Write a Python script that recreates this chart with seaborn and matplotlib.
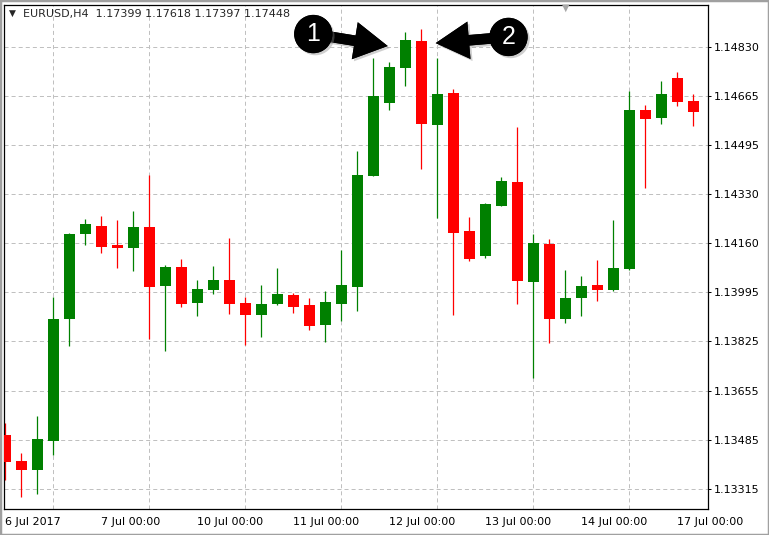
import numpy as np
import pandas as pd
import matplotlib
matplotlib.use("Agg")
import matplotlib.pyplot as plt
import matplotlib.patheffects as pe
from matplotlib.patches import Rectangle
import seaborn as sns

# EURUSD H4 candles, 6 Jul 2017 00:00 .. 17 Jul 2017 04:00
opens = [1.13499, 1.13410, 1.13380, 1.13480, 1.13898, 1.14189, 1.14215, 1.14150,
         1.14141, 1.14212, 1.14011, 1.14075, 1.13953, 1.13997, 1.14030, 1.13952,
         1.13912, 1.13949, 1.13979, 1.13945, 1.13877, 1.13949, 1.14007, 1.14388,
         1.14638, 1.14758, 1.14849, 1.14562, 1.14671, 1.14198, 1.14114, 1.14285,
         1.14366, 1.14025, 1.14154, 1.13898, 1.13970, 1.14013, 1.13996, 1.14068,
         1.14613, 1.14585, 1.14722, 1.14644]
highs = [1.13540, 1.13438, 1.13564, 1.13973, 1.14191, 1.14239, 1.14250, 1.14236,
         1.14267, 1.14390, 1.14082, 1.14102, 1.14030, 1.14078, 1.14174, 1.13972,
         1.14013, 1.14072, 1.13986, 1.13969, 1.13993, 1.14133, 1.14472, 1.14791,
         1.14777, 1.14880, 1.14890, 1.14791, 1.14685, 1.14246, 1.14293, 1.14383,
         1.14555, 1.14188, 1.14171, 1.14065, 1.14044, 1.14099, 1.14236, 1.14678,
         1.14630, 1.14712, 1.14743, 1.14668]
lows = [1.13345, 1.13288, 1.13298, 1.13431, 1.13805, 1.14151, 1.14124, 1.14073,
        1.14062, 1.13828, 1.13788, 1.13939, 1.13908, 1.13983, 1.13915, 1.13809,
        1.13836, 1.13946, 1.13918, 1.13860, 1.13819, 1.13891, 1.13925, 1.14386,
        1.14614, 1.14696, 1.14412, 1.14244, 1.13909, 1.14097, 1.14106, 1.14283,
        1.13949, 1.13696, 1.13816, 1.13884, 1.13907, 1.13959, 1.13994, 1.14065,
        1.14346, 1.14565, 1.14627, 1.14558]
closes = [1.13408, 1.13380, 1.13486, 1.13897, 1.14188, 1.14222, 1.14144, 1.14141,
          1.14212, 1.14007, 1.14075, 1.13949, 1.14000, 1.14030, 1.13949, 1.13912,
          1.13948, 1.13982, 1.13939, 1.13874, 1.13955, 1.14013, 1.14390, 1.14661,
          1.14760, 1.14853, 1.14566, 1.14668, 1.14192, 1.14103, 1.14291, 1.14370,
          1.14028, 1.14157, 1.13898, 1.13969, 1.14010, 1.13997, 1.14072, 1.14613,
          1.14582, 1.14668, 1.14640, 1.14606]

day_labels = ["6 Jul 2017", "7 Jul 00:00", "10 Jul 00:00", "11 Jul 00:00",
              "12 Jul 00:00", "13 Jul 00:00", "14 Jul 00:00", "17 Jul 00:00"]
price_labels = ["1.13315", "1.13485", "1.13655", "1.13825", "1.13995",
                "1.14160", "1.14330", "1.14495", "1.14665", "1.14830"]
header = "EURUSD,H4  1.17399 1.17618 1.17397 1.17448"

df = pd.DataFrame({"open": opens, "high": highs, "low": lows, "close": closes})
df["bar"] = np.arange(len(df))
df["color"] = np.where(df["close"] >= df["open"], "#008000", "#ff0000")

sns.set_style("white")
plt.rcParams["font.family"] = ["DejaVu Sans"]
plt.rcParams["lines.scale_dashes"] = False

fig = plt.figure(figsize=(7.69, 5.35), dpi=100)
ax = fig.add_axes([4.3 / 769, 26 / 535, 703.4 / 769, 504.5 / 535])

# candles
ax.vlines(df["bar"], df["low"], df["high"], colors=df["color"], lw=0.9, zorder=2)
ax.bar(df["bar"], df["close"] - df["open"], bottom=df["open"], width=0.69,
       color=df["color"], linewidth=0, zorder=3)

# axes / grid
yt = np.linspace(1.13315, 1.14830, len(price_labels))
ax.set_ylim(1.132458, 1.149742)
ax.set_xlim(-0.0625, 43.9)
ax.yaxis.tick_right()
ax.set_yticks(yt, price_labels)
ax.set_xticks(np.arange(0, len(df), 6), day_labels)
ax.set_xticks(np.arange(3, len(df), 3), minor=True)
for lbl in ax.get_xticklabels():
    lbl.set_ha("left")
ax.tick_params(axis="x", which="major", direction="out", length=5, width=0.72,
               labelsize=8, pad=0.5, colors="black")
ax.tick_params(axis="x", which="minor", length=0)
ax.tick_params(axis="y", direction="out", length=2.5, width=0.72, labelsize=8,
               pad=2, colors="black")
dash = (0, (2.9, 2.2))
ax.grid(False)
ax.xaxis.grid(True, which="minor", color="#c0c0c0", lw=0.72, ls=dash, zorder=0)
ax.yaxis.grid(True, which="major", color="#c0c0c0", lw=0.72, ls=dash, zorder=0)
ax.set_axisbelow(True)
for s in ax.spines.values():
    s.set_color("black")
    s.set_linewidth(0.9)

# header
fig.text(12.5 / 769, 1 - 13.5 / 535, "\u25bc", fontsize=6.5, ha="center", va="center")
fig.text(23 / 769, 1 - 13.5 / 535, header, fontsize=8, ha="left", va="center")
fig.text(566 / 769, 1 - 7.5 / 535, "\u25bc", fontsize=7, ha="center", va="center",
         color="#a8a8a8")

# numbered markers pointing at the two candles
shadow = [pe.withSimplePatchShadow(offset=(1.5, -1.5), shadow_rgbFace="#888888", alpha=0.4),
          pe.Normal()]
marks = [("1", (19.25, 1.14873), (23.9, 1.14832)),
         ("2", (31.45, 1.14863), (26.9, 1.14842))]
for txt, c, tip in marks:
    ax.annotate("", xy=tip, xytext=c,
                arrowprops=dict(arrowstyle="simple,head_length=1.2,head_width=1.35,tail_width=0.38",
                                mutation_scale=20, fc="black", ec="black", lw=0,
                                shrinkA=0, shrinkB=0, path_effects=shadow),
                zorder=5, annotation_clip=False)
    ax.scatter([c[0]], [c[1]], s=760, color="black", zorder=6, linewidths=0,
               clip_on=False, path_effects=shadow)
    ax.text(c[0], c[1], txt, color="white", fontsize=18, family="Liberation Sans",
            ha="center", va="center", zorder=7)

# window frame
fig.patches.append(Rectangle((0, 0), 1, 1, transform=fig.transFigure, fill=False,
                             ec="#a0a0a0", lw=2.5))

fig.savefig("out.png", dpi=100)
